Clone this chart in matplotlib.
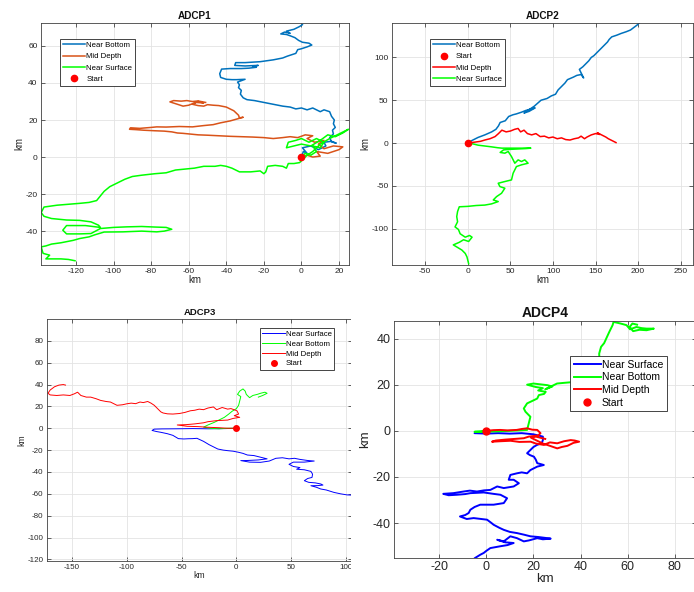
import numpy as np
import matplotlib
matplotlib.use('Agg')
import matplotlib.pyplot as plt
from matplotlib.patches import Rectangle

plt.rcParams['font.family'] = ['Liberation Sans', 'DejaVu Sans']
plt.rcParams['axes.unicode_minus'] = False

# ── trajetórias (km), ponto inicial em (0, 0)
adcp1_bottom = [(0, 0), (1, 3), (3, 2), (0.5, 5), (5, 6), (9, 4), (13, 6), (12, 8), (16, 8.5), (18.5, 7.5),
                (16, 8.2), (15, 10.5), (17, 12.5), (16.5, 14.5), (18, 16), (17, 18), (17.5, 20), (16, 22),
                (15, 24.5), (12, 25.5), (10, 24.5), (6, 26.5), (3, 25.5), (0, 26.5), (-3, 26), (-6, 27),
                (-10, 27.5), (-15, 28.5), (-20, 29.5), (-25, 30.5), (-29, 31), (-31, 32), (-32.5, 34),
                (-32, 36), (-33.5, 37.5), (-33, 39), (-34, 40.5), (-30, 42), (-34.5, 41.8), (-37, 41.8),
                (-40, 42), (-43, 43), (-43.5, 45), (-42.5, 47.5), (-38, 47.8), (-32, 47.8), (-28, 48),
                (-24, 48.5), (-26, 49), (-23, 49.5), (-30, 49.2), (-35.5, 49.5), (-35, 51), (-30, 51),
                (-22, 51.5), (-15, 52.5), (-10, 53.5), (-7.5, 54.5), (-3, 56), (-2, 58), (0, 58.5),
                (3, 59.5), (5.5, 60.5), (4, 61.5), (0.5, 62), (-1.5, 63), (-3.5, 64.5), (-6, 65.5),
                (-8, 66.2), (-11, 66.5), (-9, 67.5), (-6, 66.8), (-8, 68), (-4, 69), (-1, 70.5), (0.5, 71.5)]

adcp1_mid = [(0, 0), (3, 1), (6, 0), (10, 0.5), (8, 3), (14, 2), (20, 4), (22, 5.5), (17, 6), (12, 4.5),
             (9, 7), (12, 9), (7, 8), (3, 10), (6, 11.5), (2, 12), (-2, 10.5), (-6, 11), (-10, 10.5),
             (-15, 10), (-20, 10.5), (-26, 10.8), (-32, 11), (-38, 11.2), (-44, 11.5), (-50, 11.8),
             (-55, 12), (-60, 12.5), (-63, 12.8), (-66, 13), (-69, 13.6), (-73, 14), (-78, 14.2),
             (-84, 14.5), (-88, 14.8), (-91.5, 15), (-91, 15.8), (-86, 15.5), (-80, 16), (-77, 16.3),
             (-72, 16.2), (-65, 16.5), (-58, 16.3), (-52, 17), (-47, 17.5), (-43, 18.5), (-38, 19.5),
             (-34.5, 20.5), (-31, 21.5), (-33, 21.2), (-33.5, 22.6), (-36, 25), (-40, 27), (-44, 27.8),
             (-47, 28), (-50, 28.3), (-52, 27.5), (-55, 27.8), (-58, 28.5), (-56, 29.5), (-52, 29.2),
             (-55, 30), (-60, 28), (-63, 27.5), (-66, 28.5), (-70, 29.8), (-68, 30.5), (-64, 30.2),
             (-61, 30.5), (-58, 30), (-55, 30.3), (-51, 29.5)]

adcp1_surface = [(0, 0), (2, 2), (5, 1), (8, 3), (6, 6), (10, 5), (12, 8), (8, 10), (4, 8), (0, 10),
                 (-3, 9), (-7, 8), (-8, 5), (-4, 6), (0, 7), (5, 6), (10, 9), (14, 12), (18, 11),
                 (22, 13), (25, 15), (20, 12.5), (15, 10), (10, 7), (6, 3), (3, 1), (1, -1), (-1, -3),
                 (-4, -3.5), (-7, -3.5), (-8, -6), (-10, -5), (-14, -4.5), (-18, -5), (-19, -8),
                 (-20, -9), (-22, -7.5), (-27, -8), (-33, -8), (-37, -6), (-40, -5), (-43, -4.5),
                 (-46, -5), (-52, -5), (-57, -6), (-62, -6.5), (-67, -7), (-72, -8.5), (-78, -9),
                 (-85, -9.8), (-90, -10.5), (-94, -12), (-98, -14), (-102, -16), (-105, -18.5),
                 (-107, -21), (-109, -23.5), (-113, -24.5), (-118, -25), (-124, -25.5), (-130, -26),
                 (-137, -27), (-138.5, -30), (-137, -32), (-133, -33.2), (-125, -34), (-118, -34.2),
                 (-112, -35), (-108, -36.8), (-107, -38), (-115, -37), (-125, -37), (-127, -39.5),
                 (-125, -41.5), (-118, -41.5), (-112, -41.3), (-107, -38.6), (-100, -38), (-93, -37.7),
                 (-85, -37.5), (-78, -37.8), (-72, -38), (-69, -39), (-73, -40), (-77, -40.4),
                 (-85, -40), (-95, -40.4), (-105, -40.5), (-110, -42), (-113, -43.1), (-118, -44),
                 (-121.5, -45), (-128, -46.3), (-133, -47), (-136, -48), (-138.5, -48.5),
                 (-137.5, -52), (-134, -53), (-136, -55), (-132, -55), (-128, -55), (-124, -55.3),
                 (-120.5, -56)]

adcp2_bottom = [(0, 0), (5, 3), (12, 6.5), (20, 9.5), (28, 13), (33, 16), (36, 20), (38, 24), (44, 26),
                (48, 31), (53, 33), (57, 34), (63, 36), (68, 38), (75, 40), (79, 41), (72, 37), (66, 35),
                (72, 39), (78, 43), (86, 50), (93, 52), (98, 55), (103, 57), (106, 62), (110, 66),
                (114, 70), (117, 74), (124, 77), (128, 79), (133, 80), (136, 76), (133, 82), (131, 86),
                (135, 89), (138, 92), (142, 96), (145, 100), (148, 102), (151, 105), (154, 108),
                (157, 111), (160, 114), (164, 118), (166, 121), (169, 124), (175, 126), (180, 128),
                (186, 130), (191, 132), (195, 135), (199, 138), (201, 140)]

adcp2_mid = [(0, 0), (8, 1), (15, 2), (20, 3.5), (26, 5), (32, 7.5), (36, 11), (40, 15), (45, 13),
             (50, 14), (55, 16), (59, 17), (62, 13), (66, 15), (70, 11), (75, 9.5), (80, 11), (85, 7.5),
             (90, 8), (95, 6), (100, 7), (105, 5), (110, 6), (115, 4), (120, 3.5), (125, 5), (130, 6),
             (133, 8), (137, 5), (140, 7), (145, 9.5), (150, 11), (155, 10), (152, 12), (158, 9),
             (162, 7), (165, 5), (168, 3.5), (171, 2), (174, 0.5)]

adcp2_surface = [(0, 0), (6, -1), (12, -2.5), (20, -3.5), (28, -4.5), (35, -5.5), (40, -6), (48, -6),
                 (55, -6), (62, -6), (68, -6), (74, -6), (68, -6.5), (58, -7), (48, -7.5), (42, -8),
                 (38, -11), (43.5, -11.9), (47.4, -9.9), (51.3, -15.8), (55.2, -23.6), (59.1, -19.7),
                 (63, -21.6), (66.9, -19.7), (70.8, -23.6), (63, -25.5), (57.1, -27.5), (53.2, -35.3),
                 (51.3, -43.1), (43.5, -45), (35.7, -47), (37.7, -50.9), (43.5, -52.8), (39.6, -58.7),
                 (33.8, -62.6), (29.9, -66.5), (35.7, -68.4), (27.9, -71.1), (20, -72.5), (10, -73),
                 (0, -74), (-10, -74.5), (-12, -80), (-13, -86), (-12, -92), (-15, -98), (-11, -101),
                 (-9, -106), (-3, -110), (2, -108), (5, -110), (1, -115), (-5, -113), (-10, -116),
                 (-17, -119), (-12, -122), (-7, -125), (-3, -129), (-1, -133), (0, -137), (1, -141)]

adcp3_surface = [(0, 0), (-10, -0.3), (-25, -0.5), (-40, -0.3), (-55, -0.5), (-68, -0.6), (-75, -0.8),
                 (-77, -2), (-73, -3), (-69, -3.7), (-63, -5), (-58, -6.5), (-53, -9.5), (-48, -9.8),
                 (-44, -9.6), (-40, -9.5), (-36, -9.2), (-30, -12), (-25, -15), (-21, -17), (-17, -19),
                 (-12, -20), (-8, -20.5), (-3, -21), (2, -22), (6, -23), (10, -24.5), (16, -25),
                 (22, -26.5), (28, -28), (20, -29), (10, -29.5), (4, -29.6), (12, -31), (22, -31.2),
                 (30, -30), (36, -27.5), (42, -27), (48, -28), (53, -27.5), (58, -28.5), (65, -29.5),
                 (71, -30), (62, -31), (52, -31), (48, -33), (52, -35), (58, -36), (55, -37.5),
                 (62, -38), (68, -39.5), (69.5, -42), (69, -45), (65, -46), (62, -48), (66, -49.5),
                 (72, -50), (77, -51), (79, -52), (74, -52.5), (68, -52.6), (73, -54), (77, -55.6),
                 (82, -56.5), (89, -58.7), (95, -60), (101, -61), (105, -61.2)]

adcp3_bottom = [(0, 0), (-8, 0), (-16, -0.5), (-24, 0), (-30, 1), (-26, 3), (-20, 5.5), (-15, 8),
                (-11, 10), (-7, 13), (-4, 15.5), (0, 18), (2, 21), (3, 25), (4, 29), (1, 31), (3, 34),
                (6, 36), (8, 34), (9, 31), (12, 28), (15, 30), (19, 31), (22, 32), (26, 33), (28, 32),
                (24, 30), (20, 28.5)]

adcp3_mid = [(0, 0), (-8, 0), (-16, 0.5), (-26, 0.9), (-35, 1.5), (-45, 1.8), (-54, 3), (-46, 3.3),
             (-38, 4), (-30, 5), (-26, 6), (-18, 7), (-8, 7.5), (-3, 9), (3, 10), (-2, 11.5), (2, 13),
             (0.5, 16), (-5, 18), (-8, 17.5), (-13, 19), (-18, 17), (-21, 19.5), (-26, 18.5),
             (-30, 17), (-34, 17.5), (-38, 16.5), (-42, 16), (-47, 14.5), (-52, 13.5), (-58, 13),
             (-63, 13.2), (-67, 14), (-69, 15), (-72, 18), (-75, 21), (-78, 23), (-81, 24.5),
             (-85, 23.5), (-88, 24), (-92, 22.5), (-96, 23), (-100, 22.4), (-104, 21.5), (-109, 21),
             (-112, 22.5), (-115, 24), (-119, 24.5), (-124, 25.5), (-128, 27), (-133, 28.5),
             (-137, 28.5), (-142, 30), (-145, 33), (-148, 31.5), (-152, 30), (-158, 30.5), (-164, 30),
             (-170, 30.5), (-172, 32), (-170, 35), (-166, 38), (-162, 39.5), (-158, 40), (-156, 39.5)]

adcp4_surface = [(0, 0), (-2, -0.5), (-5, -1), (0, -1.2), (5, -1), (10, -1.2), (15, -1), (20, -1.5),
                 (24, -2.5), (24, -4), (23.5, -5.4), (21.5, -6.1), (20, -7), (18.7, -8.3), (17.3, -9.7),
                 (18.5, -10.5), (20.2, -11.2), (21, -12.5), (21.6, -14), (24.4, -14.8), (21.6, -15.5),
                 (18.7, -17), (17.3, -18.4), (15, -18), (13, -18.4), (10.2, -19.1), (9.5, -21.2),
                 (11.6, -21.2), (13.8, -22.7), (11.6, -24.1), (7.4, -24.8), (4.6, -24.1), (1.7, -25.6),
                 (-1, -25.8), (-4, -26.3), (-7, -25.9), (-9.7, -26.3), (-14, -27), (-18.3, -27.3),
                 (-16, -27.9), (-12.6, -27.7), (-9, -27.4), (-6.8, -27), (-1.1, -26.7), (3, -27.3),
                 (6, -27.7), (8.8, -29.2), (7.4, -31.3), (3.1, -32), (-2.6, -32), (-5, -33),
                 (-6.8, -34.2), (-7.5, -35.6), (-9, -36.5), (-11.2, -37.1), (-8.3, -38.2),
                 (-5.4, -37.8), (0.3, -38.5), (2, -39.8), (3.1, -40.7), (5.5, -42), (7.4, -42.9),
                 (10, -43.8), (13, -44.3), (16, -45), (18.7, -45.7), (22, -46), (25.9, -46.5),
                 (27.3, -46.7), (24, -47), (21.6, -46.5), (18, -47.5), (15.9, -47.9), (13, -46.5),
                 (10.2, -45.7), (7.4, -47.9), (4.6, -47.2), (8, -48.3), (11.6, -48.6), (9, -49.5),
                 (6, -50), (1.7, -50.8), (0, -52), (-1.1, -52.9), (-2.6, -53.7), (-4.8, -55.1)]

adcp4_bottom = [(0, 0), (-2.5, -0.3), (-5, -0.4), (0, -0.3), (5, -0.2), (10, 0), (14, 0.2), (17.3, 0.4),
                (18, 3.2), (18.7, 6.1), (16.6, 8.3), (15.9, 9.7), (17.3, 11.9), (20.2, 13.3), (21.6, 14),
                (22.3, 15.5), (24.5, 16), (25.2, 16.9), (22, 17.5), (24, 18.5), (21, 19), (17.3, 20),
                (20, 20.5), (25.9, 19.8), (28, 19.2), (25, 18), (30, 20.5), (33, 20.8), (38.7, 21.3),
                (41.5, 21.3), (45.8, 22.7), (47.2, 24.9), (47.2, 27.8), (48, 31), (47.9, 33.5),
                (48.7, 36.4), (50, 38), (52.2, 42.9), (53.6, 45.8), (54, 47.2), (57, 46.5), (59.5, 45.8),
                (61, 44), (63.7, 45), (66, 44.5), (68, 44.3), (71.1, 44.3), (68, 43.6), (65, 43.8),
                (62.3, 43.2), (60.8, 45), (62, 46.5), (64, 46)]

adcp4_mid = [(0, 0), (3, 0.3), (5.8, 0.4), (9, 0.2), (12.9, 0.4), (15, 0.8), (17.3, 1.1), (19.5, 0.5),
             (21.6, 0.4), (23, -1), (22, -2), (18, -2.5), (15.9, -3.2), (12, -3.5), (8, -3.8), (4, -4.2),
             (2.4, -4.7), (6, -4.5), (10.3, -4.3), (14, -4.8), (18.8, -4.7), (21, -5.5), (24.4, -6.1),
             (27, -5), (30.1, -5.4), (33, -4.5), (35.8, -4), (37.5, -4.2), (39.4, -4.7), (37, -5.2),
             (34.4, -6.5), (32, -7), (30.1, -7.6), (27, -6.5), (24, -5.5), (21, -4), (19, -3),
             (21, -2.5), (25, -3.5)]

inicio = (0, 0)

# cores padrão
AZUL_MATLAB = '#0072BD'
LARANJA_MATLAB = '#D95319'
AZUL = '#0000FF'
VERDE = '#00FF00'
VERMELHO = '#FF0000'

W, H = 694, 592
fig = plt.figure(figsize=(W / 100, H / 100), dpi=100)


def eixo(esq, topo, dir_, base):
    """Cria eixo a partir de coordenadas em pixels (origem no canto superior esquerdo)."""
    return fig.add_axes([esq / W, 1 - base / H, (dir_ - esq) / W, (base - topo) / H])


def trajeto(ax, pts, cor, lw, nome):
    xy = np.array(pts).T
    ax.plot(xy[0], xy[1], color=cor, linewidth=lw, label=nome)


def estilo(ax, titulo, xlim, ylim, xticks, yticks, fs, fs_lab, fs_tit):
    ax.set_xlim(*xlim)
    ax.set_ylim(*ylim)
    ax.set_xticks(xticks)
    ax.set_yticks(yticks)
    ax.grid(True, color='#E3E3E3', linewidth=0.6)
    ax.set_axisbelow(True)
    ax.tick_params(direction='in', length=3, width=0.5, labelsize=fs, colors='#262626',
                   top=True, right=True, pad=2.5)
    for s in ax.spines.values():
        s.set_edgecolor('#404040')
        s.set_linewidth(0.6)
    ax.set_title(titulo, fontsize=fs_tit, fontweight='bold', pad=3, color='#111111')
    ax.set_xlabel('km', fontsize=fs_lab, labelpad=0, color='#262626')
    ax.set_ylabel('km', fontsize=fs_lab, labelpad=1, color='#262626')


def legenda(ax, x0, y0, fs, ordem, esp, hl):
    handles, labels = ax.get_legend_handles_labels()
    mapa = dict(zip(labels, handles))
    leg = ax.legend([mapa[n] for n in ordem], ordem, loc='upper left', bbox_to_anchor=(x0, y0),
                    fontsize=fs, frameon=True, fancybox=False, framealpha=1, borderpad=0.35,
                    labelspacing=esp, handlelength=hl, handletextpad=0.1, borderaxespad=0)
    leg.get_frame().set_edgecolor('#262626')
    leg.get_frame().set_linewidth(0.6)


# — ADCP1
ax1 = eixo(41, 23, 349, 265)
trajeto(ax1, adcp1_bottom, AZUL_MATLAB, 1.1, 'Near Bottom')
trajeto(ax1, adcp1_mid, LARANJA_MATLAB, 1.1, 'Mid Depth')
trajeto(ax1, adcp1_surface, VERDE, 1.1, 'Near Surface')
ax1.plot(*inicio, 'o', color=VERMELHO, markersize=4.5, label='Start', zorder=5)
estilo(ax1, 'ADCP1', (-138.6, 25.3), (-58.3, 72.4), range(-120, 21, 20), range(-40, 61, 20), 6, 7, 7.2)
legenda(ax1, 0.062, 0.934, 5.6, ['Near Bottom', 'Mid Depth', 'Near Surface', 'Start'], 0.5, 2.9)

# — ADCP2
ax2 = eixo(392, 23, 693, 265)
trajeto(ax2, adcp2_bottom, AZUL_MATLAB, 1.1, 'Near Bottom')
trajeto(ax2, adcp2_mid, VERMELHO, 1.1, 'Mid Depth')
trajeto(ax2, adcp2_surface, VERDE, 1.1, 'Near Surface')
ax2.plot(*inicio, 'o', color=VERMELHO, markersize=4.5, label='Start', zorder=5)
estilo(ax2, 'ADCP2', (-89, 264.4), (-142.5, 140.2), range(-50, 251, 50), range(-100, 101, 50), 6, 7, 7.2)
legenda(ax2, 0.126, 0.934, 5.6, ['Near Bottom', 'Start', 'Mid Depth', 'Near Surface'], 0.5, 2.9)

# — ADCP3
ax3 = eixo(47, 319, 352, 561)
trajeto(ax3, adcp3_surface, AZUL, 0.7, 'Near Surface')
trajeto(ax3, adcp3_bottom, VERDE, 0.7, 'Near Bottom')
trajeto(ax3, adcp3_mid, VERMELHO, 0.7, 'Mid Depth')
ax3.plot(*inicio, 'o', color=VERMELHO, markersize=4, label='Start', zorder=5)
estilo(ax3, 'ADCP3', (-172.9, 105.5), (-121.5, 100), range(-150, 101, 50), range(-120, 81, 20), 5.8, 6.2, 6.8)
legenda(ax3, 0.697, 0.963, 5.6, ['Near Surface', 'Near Bottom', 'Mid Depth', 'Start'], 0.3, 2.9)
ax3.spines['right'].set_visible(False)

# — ADCP4
ax4 = eixo(394, 321, 696, 558)
trajeto(ax4, adcp4_surface, AZUL, 1.4, 'Near Surface')
trajeto(ax4, adcp4_bottom, VERDE, 1.4, 'Near Bottom')
trajeto(ax4, adcp4_mid, VERMELHO, 1.4, 'Mid Depth')
ax4.plot(*inicio, 'o', color=VERMELHO, markersize=5, label='Start', zorder=5)
estilo(ax4, 'ADCP4', (-39.2, 89), (-55.1, 47.6), range(-20, 81, 20), range(-40, 41, 20), 9, 9.5, 10)
legenda(ax4, 0.583, 0.852, 7.5, ['Near Surface', 'Near Bottom', 'Mid Depth', 'Start'], 0.25, 2.6)

# faixa em branco que corta a borda direita do painel ADCP3
fig.add_artist(Rectangle((350.5 / W, 0), 6 / W, 300 / H, transform=fig.transFigure,
                         facecolor='white', edgecolor='none', zorder=10))

fig.savefig('out.png', dpi=100, facecolor='white')
